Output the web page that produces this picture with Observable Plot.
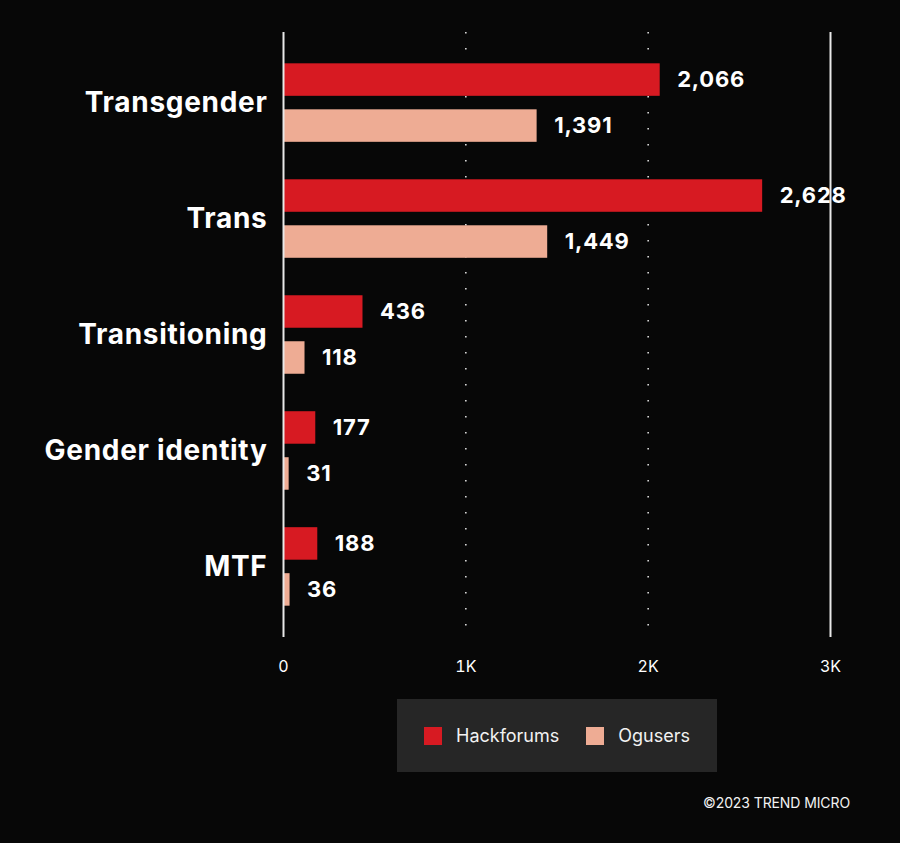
<!DOCTYPE html>
<html>
<head>
<meta charset="utf-8">
<script src="https://cdn.jsdelivr.net/npm/d3@7"></script>
<script src="https://cdn.jsdelivr.net/npm/@observablehq/plot@0.6"></script>
<style>
  html, body { margin: 0; padding: 0; background: #070707; }
  #wrap { position: relative; width: 900px; height: 843px; background: #070707; font-family: Inter, "Noto Sans", sans-serif; color: #fff; overflow: hidden; }
  #chart svg { display: block; }
  #chart g[aria-label="y-axis tick label"] text { letter-spacing: 0.7px; }
  #chart g[aria-label="text"] text { letter-spacing: 0.8px; }
  #legend { position: absolute; left: 397px; top: 699px; width: 320px; height: 73px; background: #262626; display: flex; align-items: center; box-sizing: border-box; padding-left: 27px; }
  .item { display: flex; align-items: center; font-size: 18px; margin-right: 27px; color: #f2f2f2; }
  .sw { width: 18px; height: 18px; margin-right: 14px; }
  #credit { position: absolute; right: 50px; top: 794px; font-size: 14px; color: #f2f2f2; letter-spacing: -0.1px; }
</style>
</head>
<body>
<div id="wrap">
  <div id="chart"></div>
  <div id="legend"></div>
  <div id="credit">©2023 TREND MICRO</div>
</div>
<script>
const categories = ["Transgender", "Trans", "Transitioning", "Gender identity", "MTF"];
const seriesNames = ["Hackforums", "Ogusers"];
const hackforums = [2066, 2628, 436, 177, 188];
const ogusers = [1391, 1449, 118, 31, 36];
const xTicks = [0, 1000, 2000, 3000];
const xTickLabels = ["0", "1K", "2K", "3K"];
const colors = ["#d71a22", "#eeac94"];

const hackData = categories.map((c, i) => ({category: c, value: hackforums[i]}));
const oguData = categories.map((c, i) => ({category: c, value: ogusers[i]}));
const fmt = d3.format(",");

const chart = Plot.plot({
  width: 900,
  height: 687,
  marginLeft: 283,
  marginRight: 70,
  marginTop: 32,
  marginBottom: 50,
  style: {background: "transparent", color: "#fff", fontFamily: "Inter, 'Noto Sans', sans-serif"},
  x: {domain: [0, 3000], ticks: xTicks},
  y: {domain: categories, paddingInner: 0.323, paddingOuter: 0.27, round: false},
  marks: [
    Plot.ruleX([xTicks[1], xTicks[2]], {stroke: "#ffffff", strokeWidth: 1.5, strokeDasharray: "1.5,14.5", strokeOpacity: 0.9}),
    Plot.barX(hackData, {x: "value", y: "category", fill: colors[0], insetBottom: 46}),
    Plot.barX(oguData, {x: "value", y: "category", fill: colors[1], insetTop: 46}),
    Plot.ruleX([xTicks[0], xTicks[3]], {stroke: "#e8e8e8", strokeWidth: 2}),
    Plot.text(hackData, {x: "value", y: "category", text: d => fmt(d.value), dx: 17, dy: -23, textAnchor: "start", fill: "#fff", fontSize: 22, fontWeight: "bold"}),
    Plot.text(oguData, {x: "value", y: "category", text: d => fmt(d.value), dx: 17, dy: 23, textAnchor: "start", fill: "#fff", fontSize: 22, fontWeight: "bold"}),
    Plot.axisX({ticks: xTicks, tickFormat: d => xTickLabels[xTicks.indexOf(d)], tickSize: 0, tickPadding: 23, fontSize: 16, label: null, fill: "#fff"}),
    Plot.axisY({tickSize: 0, tickPadding: 16, fontSize: 28, fontWeight: "bold", label: null, fill: "#fff"})
  ]
});
document.getElementById("chart").appendChild(chart);

const legend = document.getElementById("legend");
seriesNames.forEach((name, i) => {
  const item = document.createElement("div");
  item.className = "item";
  const sw = document.createElement("div");
  sw.className = "sw";
  sw.style.background = colors[i];
  const label = document.createElement("span");
  label.textContent = name;
  item.appendChild(sw);
  item.appendChild(label);
  legend.appendChild(item);
});
</script>
</body>
</html>
